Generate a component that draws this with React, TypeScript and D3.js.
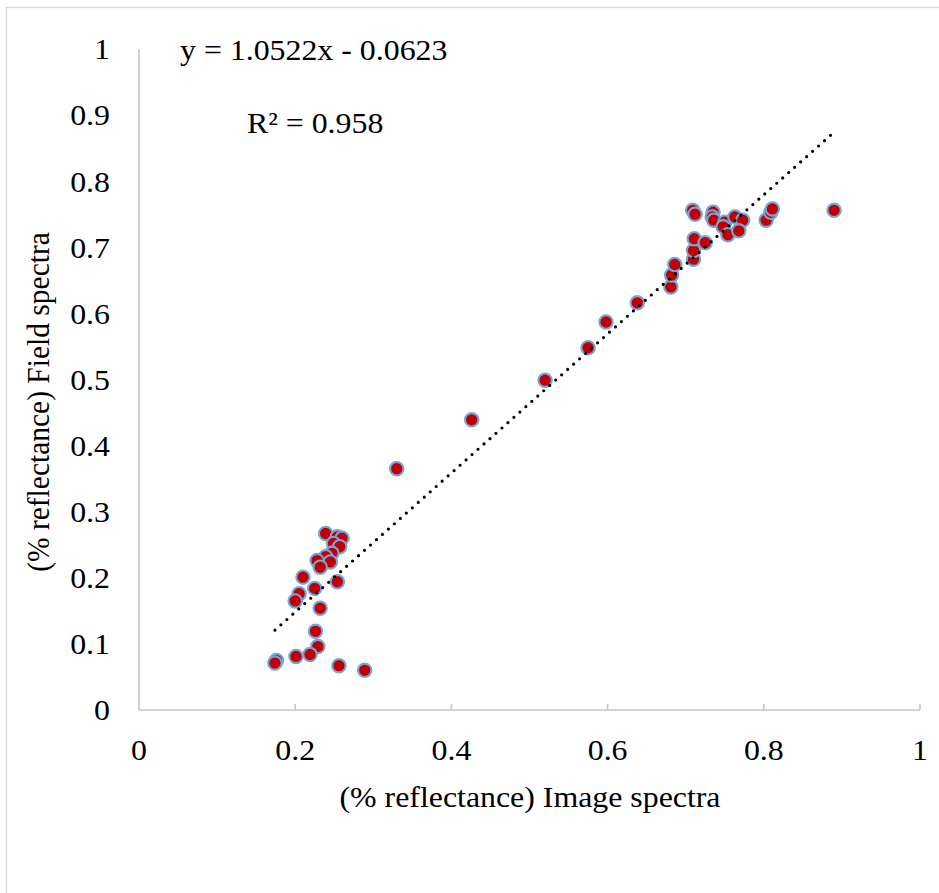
import React from "react";
import * as d3 from "d3";

// Reflectance pairs: image-derived (x) vs field-measured (y)
const imageSpectra = [
  0.239, 0.254, 0.26, 0.249, 0.257, 0.247, 0.239, 0.245, 0.228, 0.232, 0.21, 0.254,
  0.225, 0.205, 0.2, 0.232, 0.226, 0.229, 0.219, 0.201, 0.176, 0.174, 0.256, 0.289,
  0.33, 0.426, 0.52, 0.575, 0.598, 0.638, 0.681, 0.682, 0.686, 0.71, 0.71, 0.711, 0.725,
  0.709, 0.712, 0.735, 0.734, 0.736, 0.75, 0.748, 0.754, 0.763, 0.773, 0.768, 0.803,
  0.809, 0.811, 0.89,
];
const fieldSpectra = [
  0.267, 0.262, 0.26, 0.252, 0.247, 0.237, 0.232, 0.224, 0.226, 0.216, 0.201, 0.194,
  0.184, 0.176, 0.165, 0.154, 0.119, 0.096, 0.084, 0.081, 0.075, 0.071, 0.067, 0.06,
  0.365, 0.439, 0.499, 0.548, 0.587, 0.616, 0.64, 0.658, 0.674, 0.682, 0.695, 0.713, 0.707,
  0.756, 0.75, 0.753, 0.746, 0.741, 0.738, 0.731, 0.719, 0.746, 0.741, 0.725, 0.741,
  0.753, 0.758, 0.756,
];

const xTicks = [0, 0.2, 0.4, 0.6, 0.8, 1];
const yTicks = [0, 0.1, 0.2, 0.3, 0.4, 0.5, 0.6, 0.7, 0.8, 0.9, 1];

// Linear fit reported on the chart
const slope = 1.0522;
const intercept = -0.0623;
const rSquared = 0.958;

const W = 939;
const H = 893;
const FONT = "'Liberation Serif', 'Times New Roman', serif";
const FS = 29.5;
const SX = 1.08; // glyphs are set slightly wide

function Label(props: {
  x: number;
  y: number;
  anchor?: "start" | "middle" | "end";
  rotate?: number;
  children: React.ReactNode;
}) {
  const { x, y, anchor = "start", rotate = 0, children } = props;
  return (
    <text
      transform={`translate(${x},${y}) scale(${SX},1)${rotate ? ` rotate(${rotate})` : ""}`}
      dy="0.35em"
      textAnchor={anchor}
      fontFamily={FONT}
      fontSize={FS}
      fill="#000"
    >
      {children}
    </text>
  );
}

export default function App() {
  const x = d3.scaleLinear().domain([0, 1]).range([139, 920]);
  const y = d3.scaleLinear().domain([0, 1]).range([710, 49]);

  const points = imageSpectra.map((v, i) => ({ x: v, y: fieldSpectra[i] }));
  const [xMin, xMax] = d3.extent(imageSpectra) as [number, number];
  const fit = [xMin, xMax].map((v) => ({ x: v, y: slope * v + intercept }));
  const fitPath = d3
    .line<{ x: number; y: number }>()
    .x((d) => x(d.x))
    .y((d) => y(d.y))(fit) as string;

  const axisColor = "#c6c6c6";
  const fmt = d3.format("~g");

  return (
    <div style={{ position: "absolute", left: 0, top: 0 }}>
      <svg width={W} height={H} style={{ display: "block", background: "#fff" }}>
        <rect x={6.5} y={7.5} width={W + 20} height={H + 20} fill="#fff" stroke="#d9d9d9" strokeWidth={1.3} />

        {/* axes */}
        <line x1={x(0)} x2={x(0)} y1={y(1)} y2={y(0)} stroke={axisColor} strokeWidth={1.6} />
        <line x1={x(0)} x2={x(1)} y1={y(0)} y2={y(0)} stroke={axisColor} strokeWidth={1.6} />
        {xTicks.slice(1).map((t) => (
          <line key={"xt" + t} x1={x(t)} x2={x(t)} y1={y(0)} y2={y(0) - 6} stroke={axisColor} strokeWidth={1.6} />
        ))}

        {/* tick labels */}
        {yTicks.map((t) => (
          <Label key={"yl" + t} x={110} y={y(t)} anchor="end">
            {fmt(t)}
          </Label>
        ))}
        {xTicks.map((t) => (
          <Label key={"xl" + t} x={x(t)} y={750} anchor="middle">
            {fmt(t)}
          </Label>
        ))}

        {/* axis titles */}
        <Label x={530} y={797} anchor="middle">
          (% reflectance) Image spectra
        </Label>
        <Label x={38} y={402} anchor="middle" rotate={-90}>
          (% reflectance) Field spectra
        </Label>

        {/* markers */}
        {points.map((p, i) => (
          <circle
            key={"p" + i}
            cx={x(p.x)}
            cy={y(p.y)}
            r={6.7}
            fill="#c00000"
            stroke="#72a6dc"
            strokeWidth={2.1}
          />
        ))}

        {/* trendline */}
        <path d={fitPath} fill="none" stroke="#000" strokeWidth={3.2} strokeDasharray="0 8" strokeLinecap="round" />

        {/* fit annotations */}
        <Label x={180} y={50}>
          {`y = ${slope}x - ${Math.abs(intercept)}`}
        </Label>
        <Label x={247} y={123}>
          {`R² = ${rSquared}`}
        </Label>
      </svg>
    </div>
  );
}
